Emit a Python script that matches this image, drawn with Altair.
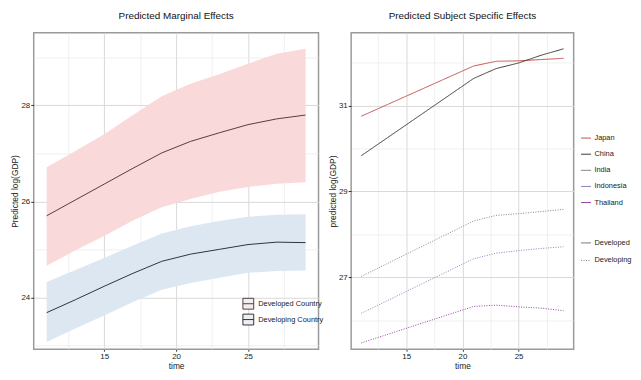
import altair as alt
import pandas as pd

# ---------------- data ----------------
time_m = [11, 13, 15, 17, 19, 21, 23, 25, 27, 29]
dev_fit = [25.70, 26.03, 26.36, 26.69, 27.01, 27.25, 27.43, 27.60, 27.72, 27.80]
dev_hi = [26.71, 27.05, 27.40, 27.80, 28.19, 28.45, 28.65, 28.87, 29.08, 29.18]
dev_lo = [24.66, 24.98, 25.28, 25.60, 25.88, 26.05, 26.20, 26.30, 26.37, 26.40]
dvg_fit = [23.68, 23.95, 24.23, 24.50, 24.75, 24.90, 25.00, 25.10, 25.15, 25.14]
dvg_hi = [24.32, 24.57, 24.82, 25.08, 25.33, 25.48, 25.59, 25.68, 25.72, 25.73]
dvg_lo = [23.07, 23.35, 23.62, 23.90, 24.16, 24.30, 24.41, 24.51, 24.55, 24.56]
groups_m = ["Developed Country", "Developing Country"]

time_s = [11, 21, 23, 25, 27, 29]
countries = ["Japan", "China", "India", "Indonesia", "Thailand"]
country_type = ["Developed", "Developed", "Developing", "Developing", "Developing"]
japan = [30.75, 31.92, 32.03, 32.04, 32.07, 32.10]
china = [29.83, 31.63, 31.86, 31.99, 32.17, 32.32]
india = [27.02, 28.31, 28.44, 28.48, 28.53, 28.58]
indonesia = [26.16, 27.43, 27.56, 27.62, 27.67, 27.71]
thailand = [25.47, 26.32, 26.35, 26.31, 26.28, 26.22]
country_colors = ["#c0504f", "#3b3b2c", "#7d8c7a", "#8585b5", "#9340a0"]

x_grid = [12.5, 15, 17.5, 20, 22.5, 25, 27.5]
y_grid_m = [23, 24, 25, 26, 27, 28, 29]
y_grid_s = [26, 27, 28, 29, 30, 31, 32]

FONT = "Liberation Sans, Arial, sans-serif"

# ---------------- frames ----------------
rows = []
for g, fit, lo, hi in [(groups_m[0], dev_fit, dev_lo, dev_hi),
                       (groups_m[1], dvg_fit, dvg_lo, dvg_hi)]:
    for t, f, l, h in zip(time_m, fit, lo, hi):
        rows.append(dict(time=t, group=g, fit=f, lo=l, hi=h))
df_m = pd.DataFrame(rows)

rows = []
for c, ty, vals in zip(countries, country_type, [japan, china, india, indonesia, thailand]):
    for t, v in zip(time_s, vals):
        rows.append(dict(time=t, country=c, type=ty, value=v))
df_s = pd.DataFrame(rows)


def axis(values, major_test, title, tick=3):
    return alt.Axis(
        values=values,
        labelExpr=f"({major_test}) ? datum.label : ''",
        tickOpacity={"condition": {"test": major_test, "value": 1}, "value": 0},
        gridWidth={"condition": {"test": major_test, "value": 1}, "value": 0.6},
        gridColor={"condition": {"test": major_test, "value": "#d9d9d9"}, "value": "#e6e6e6"},
        title=title,
        grid=True,
        domain=False,
        tickSize=tick,
        tickColor="#333333",
        labelPadding=1,
        labelFontSize=8,
        labelColor="#222222",
        titleFontSize=8.5,
        titleFontWeight="normal",
        titleColor="#222222",
        titlePadding=1,
        labelFont=FONT,
        titleFont=FONT,
    )


x_scale = alt.Scale(domain=[10.1, 29.9], nice=False, zero=False)
x_axis = axis(x_grid, "datum.value % 5 == 0", "time", tick=2)

LEG = dict(labelFontSize=7.5, labelFont=FONT, labelColor="#222222", title=None)
TITLE = dict(fontSize=10, font=FONT, fontWeight="normal", color="#111111", offset=12)

# ---------------- left panel ----------------
base_m = alt.Chart(df_m)
bands = base_m.mark_area(opacity=1).encode(
    x=alt.X("time:Q", scale=x_scale, axis=x_axis),
    y=alt.Y("lo:Q", scale=alt.Scale(domain=[22.918, 29.515], nice=False, zero=False),
            axis=axis(y_grid_m, "datum.value % 2 == 0", "Predicted log(GDP)")),
    y2="hi:Q",
    fill=alt.Fill("group:N", scale=alt.Scale(domain=groups_m, range=["#f9d9da", "#dde7f1"]), legend=None),
)
lines_m = base_m.mark_line(strokeWidth=1).encode(
    x="time:Q",
    y="fit:Q",
    stroke=alt.Stroke("group:N",
                      scale=alt.Scale(domain=groups_m, range=["#5a3c3c", "#2c3342"]),
                      legend=alt.Legend(orient="none", legendX=211, legendY=268,
                                        symbolType="M-1,-1H1V1H-1Z M-1,0H1",
                                        symbolFillColor="#efefef", symbolStrokeWidth=1,
                                        symbolSize=120, rowPadding=0, labelOffset=4, **LEG)),
)
left = alt.layer(bands, lines_m).properties(
    width=288, height=320,
    title=alt.TitleParams("Predicted Marginal Effects", **TITLE),
)

# ---------------- right panel ----------------
lines_s = alt.Chart(df_s).mark_line(strokeWidth=1).encode(
    x=alt.X("time:Q", scale=x_scale, axis=x_axis),
    y=alt.Y("value:Q", scale=alt.Scale(domain=[25.323, 32.694], nice=False, zero=False),
            axis=axis(y_grid_s, "datum.value % 2 == 1", "predicted log(GDP)")),
    color=alt.Color("country:N", sort=countries,
                    scale=alt.Scale(domain=countries, range=country_colors),
                    legend=alt.Legend(orient="none", legendX=232, legendY=101,
                                      symbolType="stroke", symbolStrokeWidth=1,
                                      symbolSize=100, rowPadding=7.3, labelOffset=3, **LEG)),
    strokeDash=alt.StrokeDash("type:N",
                              scale=alt.Scale(domain=["Developed", "Developing"],
                                              range=[[1, 0], [1, 1.5]]),
                              legend=alt.Legend(orient="none", legendX=232, legendY=207,
                                                symbolStrokeWidth=1, symbolStrokeColor="#777777",
                                                symbolSize=100, rowPadding=8.7, labelOffset=3, **LEG)),
    detail="country:N",
).properties(
    width=225, height=320,
    title=alt.TitleParams("Predicted Subject Specific Effects", **TITLE),
)

chart = alt.hconcat(left, lines_s, spacing=3).resolve_scale(
    color="independent", stroke="independent", strokeDash="independent",
    x="independent", y="independent",
).configure(
    padding={"left": 2, "top": 0, "right": 0, "bottom": 0},
    font=FONT,
).configure_view(
    stroke="#9a9a9a", strokeWidth=1.5,
).configure_legend(
    padding=0,
)

chart.save("out.html", embed_options={"renderer": "svg", "actions": False})
